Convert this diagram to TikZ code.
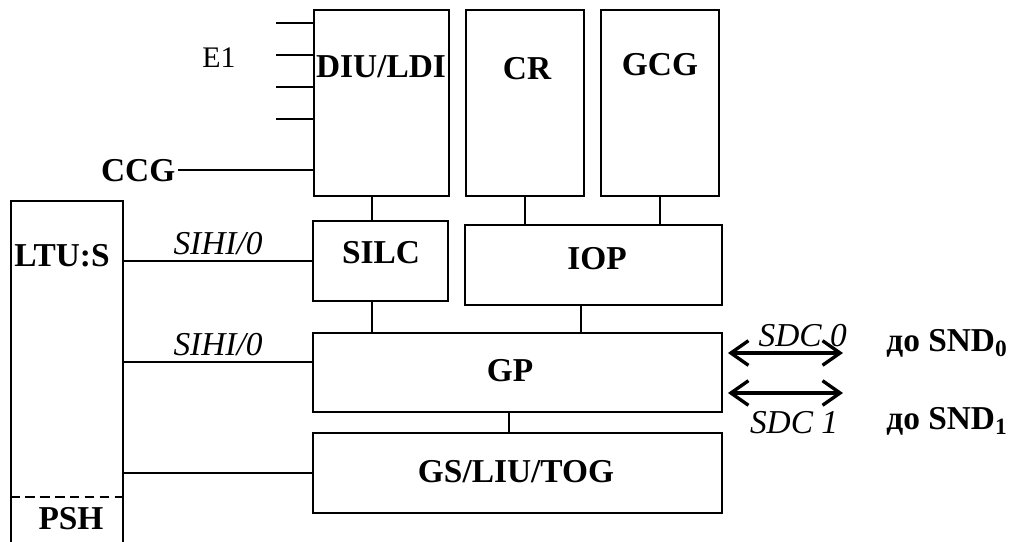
\documentclass[tikz,border=0pt]{standalone}
\usepackage{fontspec}
\setmainfont{Liberation Serif}
\usetikzlibrary{arrows.meta,fit}

\begin{document}
\begin{tikzpicture}[x=0.02cm,y=-0.02cm,line width=1.1pt,
	box/.style={draw,inner sep=0pt},
	lbl/.style={font=\fontsize{19}{22}\selectfont\bfseries,text depth=0pt,inner sep=1pt},
	sig/.style={font=\fontsize{19}{22}\selectfont\itshape,text depth=0pt,inner sep=1pt},
	dbl/.style={{Straight Barb[length=10pt,width=14pt]}-{Straight Barb[length=10pt,width=14pt]},line width=1.9pt}]
\clip (0,0) rectangle (1013,541);
% top row
\node[box,fit={(314,10) (449,196)}] (diu) {};
\node[box,fit={(466,10) (584,196)}] (cr) {};
\node[box,fit={(601,10) (719,196)}] (gcg) {};
	\node[lbl] (diutxt) at (381,67) {DIU/LDI};
	\node[lbl] (crtxt) at (527,68) {CR};
	\node[lbl] (gcgtxt) at (660,64) {GCG};
%
\node[box,fit={(11,201) (123,560)}] (ltu) {};
	\node[lbl] (ltutxt) at (62,255) {LTU:S};
	\node[lbl] (psh) at (71,518) {PSH};
	\coordinate (d) at (0,497);
	\draw[line width=1.5pt,dash pattern=on 5.5pt off 3pt] (ltu.west |- d) -- (ltu.east |- d);
%
\node[box,fit={(313,221) (448,301)}] (silc) {};
\node[box,fit={(465,225) (722,305)}] (iop) {};
\node[box,fit={(313,333) (722,412)}] (gp) {};
\node[box,fit={(313,433) (722,513)}] (gs) {};
	\node[lbl] (silctxt) at (381,252) {SILC};
	\node[lbl] (ioptxt) at (597,258) {IOP};
	\node[lbl] (gptxt) at (510,370) {GP};
	\node[lbl] (gstxt) at (516,471) {GS/LIU/TOG};
%
\foreach \y in {23,55,87,119} {
	\coordinate (e\y) at (276,\y);
	\draw (e\y) -- (e\y -| diu.west);
}
\node[font=\fontsize{17}{20}\selectfont,text depth=0pt] (e1) at (219,58) {E1};
\node[lbl,anchor=east] (ccg) at (178,170) {CCG};
\draw (ccg.east) -- (ccg.east -| diu.west);
%
\draw (silc.west) -- (silc.west -| ltu.east) node[midway,above=2pt,sig] {SIHI/0};
\coordinate (g1) at ([yshift=0.21cm]gp.west);
\draw (g1) -- (g1 -| ltu.east) node[midway,above=2pt,sig] {SIHI/0};
\draw (gs.west) -- (gs.west -| ltu.east);
%
\coordinate (c1) at (372,0);
\coordinate (c2) at (581,0);
\coordinate (c3) at (509,0);
\draw (diu.south -| c1) -- (silc.north -| c1);
\draw (silc.south -| c1) -- (gp.north -| c1);
\draw (cr.south) -- (cr.south |- iop.north);
\draw (gcg.south) -- (gcg.south |- iop.north);
\draw (iop.south -| c2) -- (gp.north -| c2);
\draw (gp.south -| c3) -- (gs.north -| c3);
%
\coordinate (a0) at ([xshift=0.1cm,yshift=0.39cm]gp.east);
\coordinate (a1) at ([xshift=0.1cm,yshift=-0.41cm]gp.east);
\draw[dbl] (a0) -- ++(115,0) node[pos=0.65,above=2pt,sig] {SDC 0};
\draw[dbl] (a1) -- ++(115,0) node[pos=0.575,below=8.5pt,sig] {SDC 1};
\node[lbl] (snd0) at (947,340) {до SND\textsubscript{0}};
\node[lbl] (snd1) at (947,418) {до SND\textsubscript{1}};
\end{tikzpicture}
\end{document}
